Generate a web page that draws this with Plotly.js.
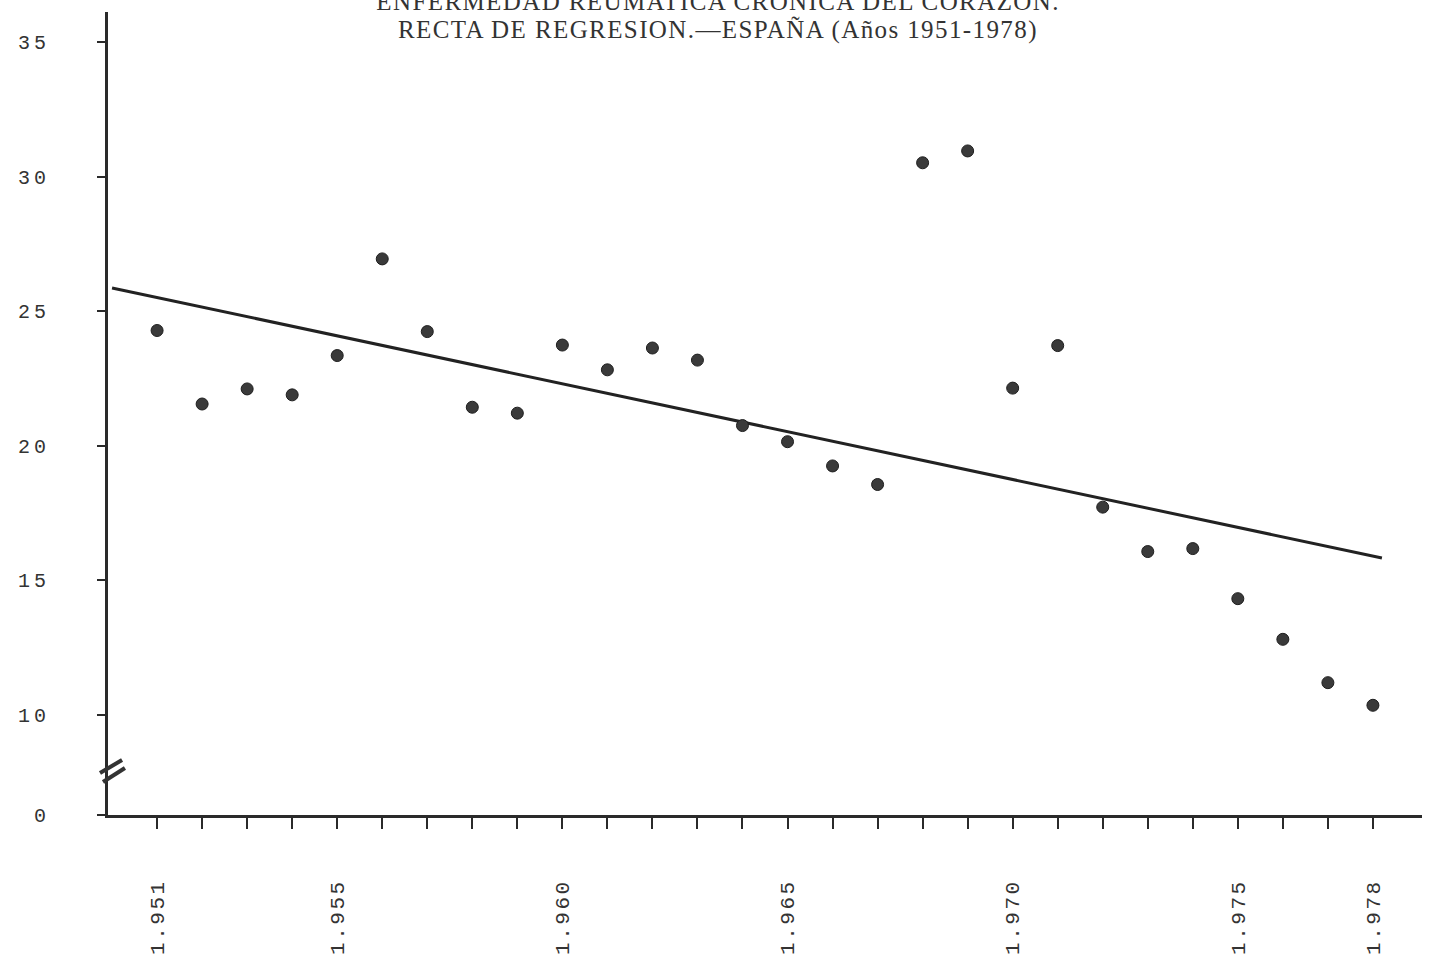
<!DOCTYPE html>
<html>
<head>
<meta charset="utf-8">
<script src="https://cdn.plot.ly/plotly-3.0.1.min.js"></script>
<style>
html,body{margin:0;padding:0;background:#fff;}
#chart{width:1429px;height:964px;}
#chart .xtick text{letter-spacing:2.5px;}
#chart .ytick text{letter-spacing:4px;}
#chart .annotation-text{letter-spacing:1.4px;}
</style>
</head>
<body>
<div id="chart"></div>
<script>
// Data
var years = [1951,1952,1953,1954,1955,1956,1957,1958,1959,1960,1961,1962,1963,1964,
             1965,1966,1967,1968,1969,1970,1971,1972,1973,1974,1975,1976,1977,1978];
var rates = [24.28,21.55,22.11,21.89,23.35,26.94,24.24,21.43,21.21,23.74,22.82,23.63,23.18,20.75,
             20.15,19.25,18.56,30.51,30.95,22.14,23.72,17.72,16.07,16.18,14.32,12.81,11.20,10.36];
var regYears = [1950.0, 1978.2];
var regValues = [25.86, 15.83];
var xLabeled = [1951,1955,1960,1965,1970,1975,1978];
var yTickVals = [6.285,10,15,20,25,30,35];
var yTickText = ['0','10','15','20','25','30','35'];
var titleLine1 = 'ENFERMEDAD REUMATICA CRONICA DEL CORAZON.';
var titleLine2 = 'RECTA DE REGRESION.—ESPAÑA (Años 1951-1978)';

var xTickText = years.map(function(y){
  return xLabeled.indexOf(y) >= 0 ? '1.' + String(y).slice(1) : '';
});

var traces = [
  {x: regYears, y: regValues, type: 'scatter', mode: 'lines',
   line: {color: '#222', width: 3}, hoverinfo: 'skip', showlegend: false},
  {x: years, y: rates, type: 'scatter', mode: 'markers',
   marker: {size: 12, color: '#3a3a3a', line: {color: '#1e1e1e', width: 1}}, showlegend: false}
];

var ink = '#2a2a2a';
var titleFont = {family: 'Liberation Serif, Times New Roman, serif', size: 25, color: '#333'};
var layout = {
  width: 1429, height: 964,
  margin: {l: 108, r: 7, t: 12, b: 149},
  paper_bgcolor: '#fff', plot_bgcolor: '#fff',
  showlegend: false,
  xaxis: {
    range: [1949.91, 1979.09], showgrid: false, zeroline: false,
    showline: true, linecolor: ink, linewidth: 3,
    tickmode: 'array', tickvals: years, ticktext: xTickText,
    ticks: 'outside', ticklen: 11, tickwidth: 2, tickcolor: ink,
    tickangle: -90, ticklabelstandoff: 42,
    tickfont: {family: 'Liberation Mono, DejaVu Sans Mono, monospace', size: 21, color: '#333'}
  },
  yaxis: {
    range: [6.285, 36.11], showgrid: false, zeroline: false,
    showline: true, linecolor: ink, linewidth: 3,
    tickmode: 'array', tickvals: yTickVals, ticktext: yTickText,
    ticks: 'outside', ticklen: 8, tickwidth: 2, tickcolor: ink,
    ticklabelstandoff: 43,
    tickfont: {family: 'Liberation Mono, DejaVu Sans Mono, monospace', size: 20, color: '#333'}
  },
  shapes: [
    {type: 'line', xref: 'paper', yref: 'paper', x0: -0.0061, y0: 0.0523, x1: 0.0107, y1: 0.0685,
     line: {color: '#333', width: 4}},
    {type: 'line', xref: 'paper', yref: 'paper', x0: -0.0038, y0: 0.0411, x1: 0.0129, y1: 0.0585,
     line: {color: '#333', width: 4}}
  ],
  annotations: [
    {text: titleLine1, xref: 'paper', yref: 'paper', x: 0.4642, y: 1.0125, xanchor: 'center', yanchor: 'middle',
     showarrow: false, font: titleFont},
    {text: titleLine2, xref: 'paper', yref: 'paper', x: 0.4642, y: 0.9776, xanchor: 'center', yanchor: 'middle',
     showarrow: false, font: titleFont}
  ]
};

Plotly.newPlot('chart', traces, layout, {displayModeBar: false, staticPlot: true});
</script>
</body>
</html>
